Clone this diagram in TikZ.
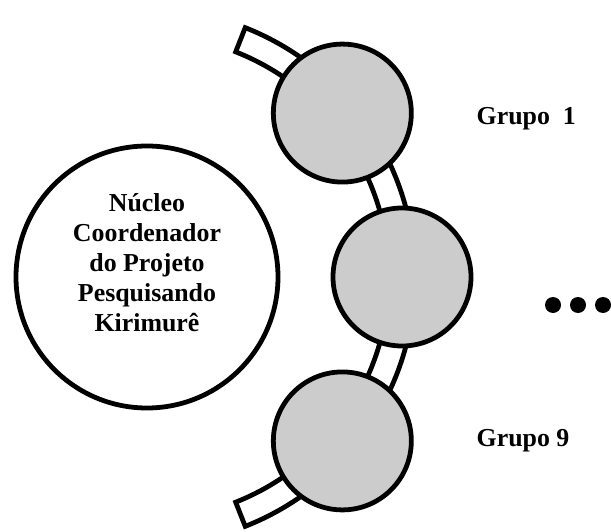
\documentclass[tikz,border=0pt]{standalone}
\usepackage{fontspec}
\setmainfont{Liberation Serif}
\usetikzlibrary{positioning}
\definecolor{grupogray}{HTML}{CCCCCC}

\begin{document}
\begin{tikzpicture}[
    grupo/.style={circle, draw, line width=3.4pt, fill=grupogray, minimum size=3.45cm, inner sep=0pt},
    rotulo/.style={font=\bfseries\fontsize{18.4}{21.3}\selectfont, align=center}
]
    \useasboundingbox (-3.675,-6.35) rectangle (11.6,6.925);

    % Band
    \draw[line width=3.4pt, fill=white] (-68.5:6.70) arc (-68.5:68.5:6.70)
        -- (68.5:6.05) arc (68.5:-68.5:6.05) -- cycle;

    % Nucleo
    \node[circle, draw, line width=3.4pt, minimum size=6.55cm, inner sep=0pt] (nucleo) at (0,0) {};
    \node[rotulo] (titulo) at ([yshift=0.35cm]nucleo.center)
        {Núcleo\\Coordenador\\do Projeto\\Pesquisando\\Kirimurê};

    % Grupos
    \node[grupo] (g1) at (40:6.375) {};
    \node[grupo] (gm) at (0:6.375) {};
    \node[grupo] (g9) at (-40:6.375) {};

    % Labels
    \node[rotulo, right=1.45cm of g1, yshift=-0.15cm] (lg1) {Grupo\ \ 1};
    \node[rotulo, right=1.45cm of g9] (lg9) {Grupo 9};

    % Dots
    \fill (10.15,-0.7) circle (0.2);
    \fill (10.775,-0.7) circle (0.2);
    \fill (11.4,-0.7) circle (0.2);
\end{tikzpicture}
\end{document}
